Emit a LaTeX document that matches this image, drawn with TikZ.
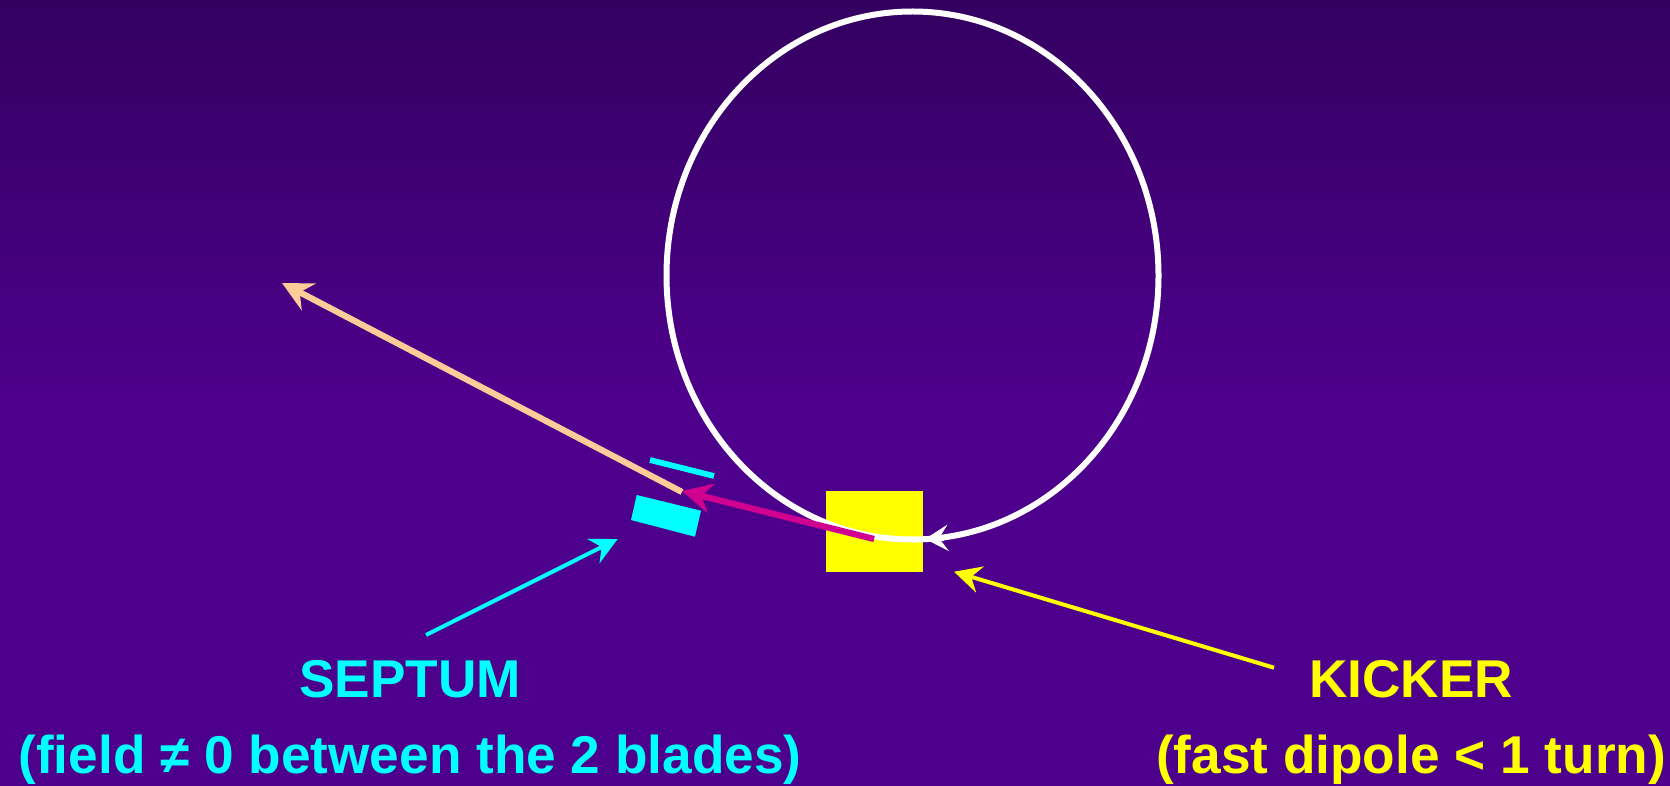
\documentclass[tikz,border=0pt]{standalone}
\usepackage{fontspec}
\setmainfont{Liberation Sans}
\usetikzlibrary{arrows.meta}
\definecolor{bgtop}{RGB}{51,0,96}
\definecolor{bgmid}{RGB}{77,0,140}
\definecolor{beamcyan}{RGB}{0,255,255}
\definecolor{beamyellow}{RGB}{255,255,0}
\definecolor{beampeach}{RGB}{255,204,153}
\definecolor{beammag}{RGB}{208,0,144}
\tikzset{
    biglab/.style={font=\fontsize{26.6}{30}\selectfont\bfseries,anchor=base,inner sep=0pt},
    bigtip/.style={-{Stealth[length=15pt,width=15pt,inset=5pt]},line width=3.1pt},
    thintip/.style={-{Stealth[length=13.5pt,width=13.5pt,inset=4.5pt]},line width=2pt}
}

\begin{document}
\begin{tikzpicture}[x=0.5pt,y=-0.5pt]
    \useasboundingbox (0,0) rectangle (1670,786);
    \shade[top color=bgtop,bottom color=bgmid] (0,0) rectangle (1670,400);
    \fill[bgmid] (0,399) rectangle (1670,786);

    \fill[beamyellow] (826,491) rectangle (923,572);
    \draw[white,line width=3pt] (912.5,275.5) ellipse (246 and 264);

    \coordinate (ringa) at (944,538);
    \coordinate (ringb) at (925,539);
    \draw[white,-{Stealth[length=11.5pt,width=13pt,inset=4.5pt]},line width=3pt] (ringa) -- (ringb);

    \coordinate (kicka) at (874,539);
    \coordinate (kickb) at (682,491);
    \draw[beammag,bigtip] (kicka) -- (kickb);

    \coordinate (exita) at (682,492);
    \coordinate (exitb) at (282,283);
    \draw[beampeach,bigtip] (exita) -- (exitb);

    \fill[beamcyan] (636.7,495) -- (701,510.7) -- (695,536.7) -- (631,520) -- cycle;
    \coordinate (bladea) at (650,460);
    \coordinate (bladeb) at (714,476);
    \draw[beamcyan,line width=2.9pt] (bladea) -- (bladeb);

    \node[biglab,text=beamcyan] (sepname) at (410,697.7) {SEPTUM};
    \node[biglab,text=beamcyan] (sepnote) at (410,773) {(field ≠ 0 between the 2 blades)};
    \node[biglab,text=beamyellow] (kickname) at (1411,697.7) {KICKER};
    \node[biglab,text=beamyellow] (kicknote) at (1411,773) {(fast dipole < 1 turn)};

    \coordinate (sepa) at (426,635);
    \coordinate (sepb) at (617.7,539);
    \draw[beamcyan,thintip] (sepa) -- (sepb);

    \coordinate (kica) at (1274,667.7);
    \coordinate (kicb) at (954,571.7);
    \draw[beamyellow,thintip] (kica) -- (kicb);
\end{tikzpicture}
\end{document}
